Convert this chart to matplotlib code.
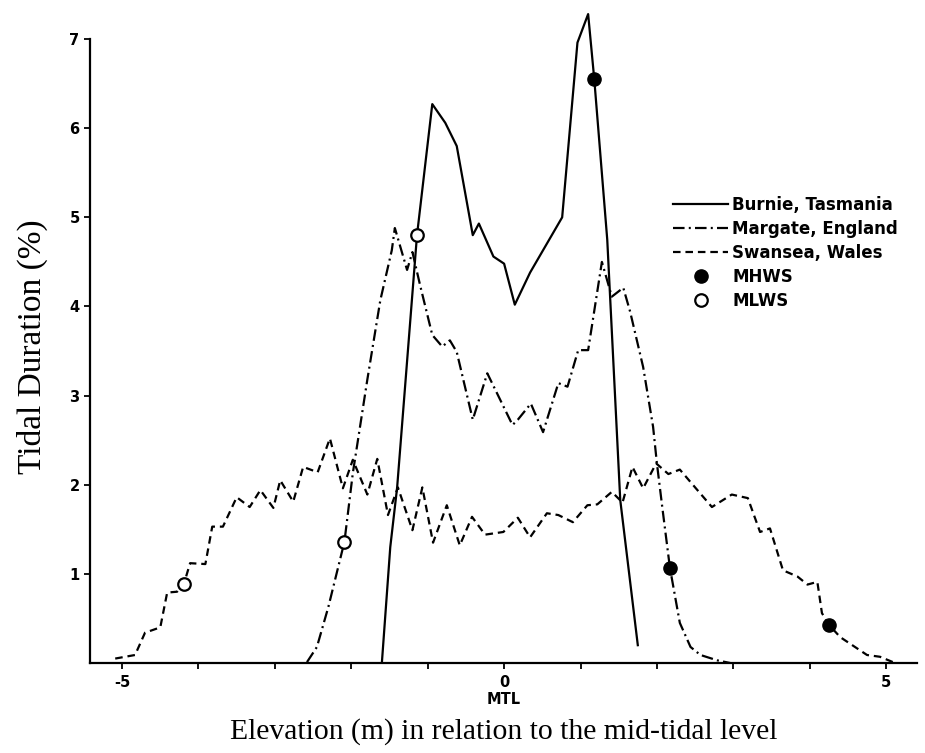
"""Tidal duration curves against elevation relative to mid-tidal level."""
import matplotlib

matplotlib.use("Agg")
import matplotlib.pyplot as plt
from matplotlib.lines import Line2D

# Burnie, Tasmania (solid)
burnie_x = [-1.60, -1.49, -1.40, -1.14, -0.94, -0.77, -0.62, -0.41, -0.33, -0.14,
            0.00, 0.14, 0.34, 0.76, 0.96, 1.10, 1.18, 1.35, 1.52, 1.75]
burnie_y = [0.00, 1.30, 1.97, 4.80, 6.27, 6.06, 5.80, 4.80, 4.93, 4.56,
            4.48, 4.02, 4.38, 5.00, 6.96, 7.28, 6.55, 4.75, 1.83, 0.20]

# Margate, England (dash-dot)
margate_x = [-2.58, -2.45, -2.30, -2.09, -1.98, -1.79, -1.62, -1.47, -1.43, -1.27,
             -1.20, -1.10, -0.94, -0.81, -0.71, -0.62, -0.41, -0.22, 0.11, 0.18,
             0.35, 0.51, 0.71, 0.83, 0.97, 1.10, 1.28, 1.41, 1.56, 1.65,
             1.82, 1.95, 2.00, 2.07, 2.17, 2.30, 2.44, 2.57, 2.79, 2.96]
margate_y = [0.01, 0.18, 0.63, 1.36, 2.13, 3.18, 4.07, 4.63, 4.88, 4.41,
             4.61, 4.24, 3.68, 3.55, 3.62, 3.49, 2.73, 3.25, 2.67, 2.73,
             2.91, 2.59, 3.14, 3.10, 3.51, 3.51, 4.50, 4.11, 4.21, 3.94,
             3.32, 2.65, 2.24, 1.75, 1.07, 0.45, 0.18, 0.09, 0.03, 0.00]

# Swansea, Wales (dashed)
swansea_x = [-5.09, -4.83, -4.70, -4.50, -4.41, -4.28, -4.19, -4.11, -3.91, -3.82,
             -3.68, -3.50, -3.33, -3.19, -3.02, -2.93, -2.76, -2.63, -2.44, -2.28,
             -2.11, -1.98, -1.79, -1.66, -1.52, -1.39, -1.20, -1.07, -0.93, -0.75,
             -0.58, -0.42, -0.25, -0.01, 0.18, 0.34, 0.56, 0.71, 0.90, 1.09,
             1.22, 1.41, 1.55, 1.68, 1.82, 1.99, 2.15, 2.30, 2.72, 2.98,
             3.19, 3.35, 3.48, 3.65, 3.84, 3.97, 4.10, 4.16, 4.25, 4.40,
             4.75, 4.92, 5.09]
swansea_y = [0.05, 0.09, 0.34, 0.40, 0.79, 0.80, 0.89, 1.12, 1.11, 1.53,
             1.53, 1.86, 1.75, 1.94, 1.74, 2.05, 1.81, 2.20, 2.14, 2.52,
             1.96, 2.28, 1.89, 2.29, 1.66, 1.97, 1.49, 1.97, 1.35, 1.77,
             1.32, 1.64, 1.44, 1.47, 1.63, 1.41, 1.68, 1.66, 1.58, 1.77,
             1.78, 1.92, 1.80, 2.20, 1.96, 2.24, 2.12, 2.17, 1.75, 1.89,
             1.85, 1.47, 1.51, 1.04, 0.97, 0.88, 0.91, 0.56, 0.43, 0.29,
             0.09, 0.07, 0.01]

# mean high / low water springs (Burnie, Margate, Swansea)
mhws_x = [1.18, 2.17, 4.25]
mhws_y = [6.55, 1.07, 0.43]
mlws_x = [-1.14, -2.09, -4.19]
mlws_y = [4.80, 1.36, 0.89]

x_ticks = [-5, -4, -3, -2, -1, 0, 1, 2, 3, 4, 5]
x_tick_labels = ["-5", "", "", "", "", "0\nMTL", "", "", "", "", "5"]
y_ticks = [1, 2, 3, 4, 5, 6, 7]

LW = 1.6
DASH_DOT = (0, (5.2, 1.9, 0.9, 1.9))
DASHED = (0, (3.4, 2.2))

fig = plt.figure(figsize=(9.25, 7.53), dpi=100)
ax = fig.add_axes([0.0973, 0.1195, 0.8937, 0.876])

ax.plot(burnie_x, burnie_y, color="black", lw=LW, ls="-")
ax.plot(margate_x, margate_y, color="black", lw=LW, ls=DASH_DOT)
ax.plot(swansea_x, swansea_y, color="black", lw=LW, ls=DASHED)
ax.plot(mhws_x, mhws_y, ls="none", marker="o", ms=9.5, mfc="black", mec="black", zorder=5)
ax.plot(mlws_x, mlws_y, ls="none", marker="o", ms=9, mfc="white", mec="black", mew=1.6, zorder=5)

ax.set_xlim(-5.42, 5.4)
ax.set_ylim(0, 7.4)
for side in ("top", "right"):
    ax.spines[side].set_visible(False)
for side in ("left", "bottom"):
    ax.spines[side].set_linewidth(1.6)
ax.spines["left"].set_bounds(0, 7)

tick_font = {"family": "DejaVu Sans", "weight": "bold", "size": 10.5}
ax.set_xticks(x_ticks)
ax.set_xticklabels(x_tick_labels, fontdict=tick_font, linespacing=1.2)
ax.set_yticks(y_ticks)
ax.set_yticklabels([str(v) for v in y_ticks], fontdict=tick_font)
ax.tick_params(axis="both", direction="out", length=4.5, width=1.3)
ax.tick_params(axis="x", pad=4)
ax.tick_params(axis="y", pad=3)

ax.set_xlabel("Elevation (m) in relation to the mid-tidal level",
              family="Liberation Serif", fontsize=21.3, labelpad=8)
ax.set_ylabel("Tidal Duration (%)", family="Liberation Serif", fontsize=24)
ax.yaxis.set_label_coords(-0.051, 0.48)

handles = [
    Line2D([], [], color="black", lw=LW, ls="-"),
    Line2D([], [], color="black", lw=LW, ls=DASH_DOT),
    Line2D([], [], color="black", lw=LW, ls=DASHED),
    Line2D([], [], ls="none", marker="o", ms=9.5, mfc="black", mec="black"),
    Line2D([], [], ls="none", marker="o", ms=9, mfc="white", mec="black", mew=1.6),
]
labels = ["Burnie, Tasmania", "Margate, England", "Swansea, Wales", "MHWS", "MLWS"]
ax.legend(handles, labels, loc="upper left", bbox_to_anchor=(0.7276, 0.740),
          bbox_transform=fig.transFigure, frameon=False, borderpad=0, borderaxespad=0,
          handlelength=3.3, handletextpad=0.25, labelspacing=0.36,
          prop={"family": "DejaVu Sans", "weight": "bold", "size": 12})

fig.savefig("out.png", dpi=100)
